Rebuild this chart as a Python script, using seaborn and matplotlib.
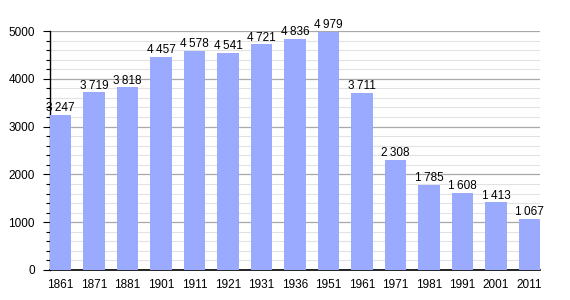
import matplotlib
matplotlib.use("Agg")
import matplotlib.pyplot as plt
import seaborn as sns
import pandas as pd
from matplotlib.ticker import MultipleLocator

years = ["1861", "1871", "1881", "1901", "1911", "1921", "1931", "1936", "1951",
         "1961", "1971", "1981", "1991", "2001", "2011"]
population = [3247, 3719, 3818, 4457, 4578, 4541, 4721, 4836, 4979,
              3711, 2308, 1785, 1608, 1413, 1067]

df = pd.DataFrame({"year": years, "pop": population})

sns.set_style("white")
plt.rcParams['font.family'] = ['Liberation Sans', 'DejaVu Sans']
plt.rcParams['text.color'] = 'black'
plt.rcParams['xtick.color'] = 'black'
plt.rcParams['ytick.color'] = 'black'

BW = 0.63

fig = plt.figure(figsize=(5.7, 3.0), dpi=100)
ax = fig.add_axes([50/570, 30/300, 490/570, 239/300])

sns.barplot(data=df, x="year", y="pop", color="#99aaff", saturation=1,
            width=BW, ax=ax, zorder=3, linewidth=0, edgecolor="none")

ax.set_ylim(0, 5000)
ax.set_xlim(-BW / 2, len(years) - 1 + BW / 2)
ax.yaxis.set_major_locator(MultipleLocator(1000))
ax.yaxis.set_minor_locator(MultipleLocator(200))
ax.grid(axis="y", which="major", color="#a8a8a8", linewidth=0.9, zorder=0)
ax.grid(axis="y", which="minor", color="#e2e2e2", linewidth=0.8, zorder=0)
ax.set_axisbelow(True)

for s in ["top", "right"]:
    ax.spines[s].set_visible(False)
ax.spines["left"].set_color("black")
ax.spines["bottom"].set_color("black")
ax.spines["left"].set_linewidth(1.0)
ax.spines["bottom"].set_linewidth(1.2)

ax.tick_params(axis="y", which="major", left=True, length=5, width=0.8,
               labelsize=8.5, pad=6, colors="black")
ax.tick_params(axis="y", which="minor", left=True, length=3, width=0.8, colors="black")
ax.tick_params(axis="x", bottom=False, labelsize=8.5, pad=3, colors="black")
ax.set_xlabel("")
ax.set_ylabel("")

for i, v in enumerate(population):
    label = f"{v:,}".replace(",", "\u2009")
    ax.text(i, v + 15, label, ha="center", va="bottom", fontsize=8.5,
            color="black", zorder=4)

fig.savefig("out.png", dpi=100)
